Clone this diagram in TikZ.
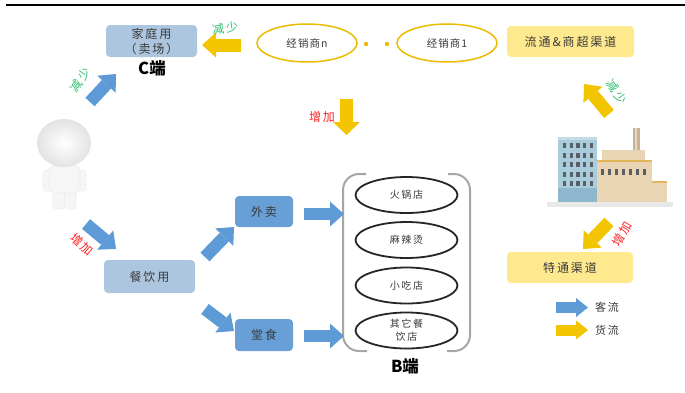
\documentclass[tikz,border=0pt]{standalone}
\usepackage{fontspec}
\setmainfont{Noto Sans CJK SC}
\newfontfamily\widecjk[LetterSpace=16]{Noto Sans CJK SC}
\newfontfamily\loosecjk[LetterSpace=10]{Noto Sans CJK SC}
\usetikzlibrary{arrows.meta,shapes.geometric}

\definecolor{boxpale}{HTML}{ADC6E0}
\definecolor{boxblue}{HTML}{689FD7}
\definecolor{flowblue}{HTML}{5E9BD6}
\definecolor{flowgold}{HTML}{F2C500}
\definecolor{palegold}{HTML}{FEE98E}
\definecolor{ringgold}{HTML}{EBBB00}
\definecolor{lessgreen}{HTML}{2DBE6C}
\definecolor{morered}{HTML}{FF2020}
\definecolor{ink}{HTML}{3A3A3A}
\definecolor{towerblue}{HTML}{A9CCDD}
\definecolor{towerbase}{HTML}{8DB7CC}
\definecolor{plantbeige}{HTML}{E9D4B4}
\definecolor{plantstripe}{HTML}{E3B65A}
\definecolor{windowgray}{HTML}{5A5F66}

\tikzset{
  card/.style={rounded corners=4pt, align=center, text=ink, inner sep=0pt,
    font=\widecjk\fontsize{12}{15}\selectfont},
  palebox/.style={card, fill=boxpale},
  bluebox/.style={card, fill=boxblue},
  goldbox/.style={card, fill=palegold},
  dealer/.style={ellipse, draw=ringgold, line width=1.5pt, fill=white,
    minimum width=100pt, minimum height=38pt, inner sep=0pt, text=ink,
    font=\loosecjk\fontsize{10.5}{12}\selectfont},
  shop/.style={ellipse, draw=black!85, line width=1.8pt, fill=white,
    minimum width=102pt, minimum height=36pt, inner sep=0pt, text=ink,
    align=center, font=\widecjk\fontsize{10}{13}\selectfont},
  flow/.style={line width=12.5pt,
    -{Triangle[width=25pt,length=14pt,line width=0pt]}},
  blueflow/.style={flow, draw=flowblue},
  goldflow/.style={flow, draw=flowgold},
  keyflow/.style={line width=11pt,
    -{Triangle[width=19pt,length=12pt,line width=0pt]}},
  less/.style={text=lessgreen, font=\widecjk\fontsize{12}{13}\selectfont, inner sep=0pt},
  more/.style={text=morered, font=\widecjk\fontsize{12}{13}\selectfont, inner sep=0pt},
  endlabel/.style={font=\fontsize{16.5}{18}\selectfont\bfseries, text=black, inner sep=0pt},
  keytext/.style={font=\widecjk\fontsize{11}{12}\selectfont, text=ink, inner sep=0pt, anchor=west},
  bodypart/.style={fill=gray!7, draw=gray!14, line width=0.6pt}
}

\begin{document}
\begin{tikzpicture}[x=1pt,y=-1pt]
\useasboundingbox (0,0) rectangle (685,392);

% header rule
\draw[line width=2pt] (6,5) -- (685,5);

% ---------- consumer figure ----------
\fill[bodypart, rounded corners=3pt] (43,170) rectangle (51,191);
\fill[bodypart, rounded corners=3pt] (78,170) rectangle (86,191);
\fill[bodypart, rounded corners=3pt] (53,186) rectangle (64.5,209);
\fill[bodypart, rounded corners=3pt] (64.5,186) rectangle (76,209);
\fill[bodypart, rounded corners=7pt] (49,165) rectangle (80,193);
\shade[inner color=white, outer color=gray!22] (64,143) ellipse [x radius=27, y radius=24];

% ---------- channel boxes ----------
\node[palebox, minimum width=91pt, minimum height=32pt] (home) at (151.5,41) {家庭用\\（卖场）};
\node[endlabel] (cend) at (152,68) {C端};
\node[palebox, minimum width=91pt, minimum height=33pt] (dining) at (149.5,276.5) {餐饮用};
\node[bluebox, minimum width=58pt, minimum height=31pt] (takeout) at (264,211.5) {外卖};
\node[bluebox, minimum width=58pt, minimum height=32pt] (dinein) at (264,335) {堂食};
\node[goldbox, minimum width=127pt, minimum height=31pt] (retail) at (570.5,41.5) {流通\&商超渠道};
\node[goldbox, minimum width=126pt, minimum height=31pt] (special) at (570,267.5) {特通渠道};

% ---------- dealers ----------
\node[dealer] (dealerN) at (307,43) {经销商n};
\node[dealer] (dealer1) at (447,43) {经销商1};
\fill[ringgold] (366,44) circle (2.2);
\fill[ringgold] (387,44) circle (2.2);

% ---------- B-side shops ----------
\draw[gray!70, line width=2pt, rounded corners=16pt] (366,174) -- (343,174) -- (343,351) -- (367,351);
\draw[gray!70, line width=2pt, rounded corners=16pt] (448,174) -- (470,174) -- (470,351) -- (447,351);
\node[shop] (hotpot) at (406.5,195) {火锅店};
\node[shop] (malatang) at (406.5,240) {麻辣烫};
\node[shop] (snack) at (406.5,285.5) {小吃店};
\node[shop] (othershop) at (406.5,330.5) {其它餐\\饮店};
\node[endlabel] (bend) at (405,366) {B端};

% ---------- factory ----------
\fill[gray!18] (547,202) rectangle (673,207);
\fill[towerblue] (558,138) rectangle (597,190);
\fill[towerbase] (558,188) rectangle (597,202);
\fill[towerblue!70!white] (558,137) rectangle (597,139.5);
\foreach \cx in {563,569.7,576.4,583.1,589.8}
  \foreach \cy in {143,152.5,162,171.5,181}
    \fill[windowgray] (\cx,\cy) rectangle ++(3.2,5);
\fill[plantbeige!85!black] (633,128) rectangle (640,151);
\fill[plantbeige!95!white] (635,128) rectangle (637,151);
\fill[plantbeige] (602,150) rectangle (645,161);
\fill[plantbeige] (597,160) rectangle (652,202);
\fill[plantstripe] (597,159.5) rectangle (652,162);
\foreach \cx in {600.5,607.5,614.5,621.5,628.5,635.5,642.5}
  \fill[windowgray] (\cx,169) rectangle ++(3,6);
\fill[plantbeige] (652,182) rectangle (667,202);
\fill[plantstripe] (652,181) rectangle (667,183);

% ---------- flow arrows ----------
\coordinate (p2cTail) at (90,102);
\coordinate (p2cTip) at (116,74);
\coordinate (p2dTail) at (86,224);
\coordinate (p2dTip) at (116,249);
\coordinate (d2tTail) at (205,257);
\coordinate (d2tTip) at (234,227);
\coordinate (d2eTail) at (205,309);
\coordinate (d2eTip) at (234,331);
\coordinate (t2bTail) at (304,214);
\coordinate (t2bTip) at (344,214);
\coordinate (e2bTail) at (304,336);
\coordinate (e2bTip) at (344,336);
\coordinate (n2hTail) at (241,45);
\coordinate (n2hTip) at (202,45);
\coordinate (downTail) at (346.5,99);
\coordinate (downTip) at (346.5,135);
\coordinate (f2rTail) at (609,114);
\coordinate (f2rTip) at (584,84);
\coordinate (f2sTail) at (609,222);
\coordinate (f2sTip) at (583,249);

\draw[blueflow] (p2cTail) -- (p2cTip);
\draw[blueflow] (p2dTail) -- (p2dTip);
\draw[blueflow] (d2tTail) -- (d2tTip);
\draw[blueflow] (d2eTail) -- (d2eTip);
\draw[blueflow] (t2bTail) -- (t2bTip);
\draw[blueflow] (e2bTail) -- (e2bTip);
\draw[goldflow, line width=13pt] (n2hTail) -- (n2hTip);
\draw[goldflow, line width=13pt, -{Triangle[width=27pt,length=13pt,line width=0pt]}] (downTail) -- (downTip);
\draw[goldflow] (f2rTail) -- (f2rTip);
\draw[goldflow] (f2sTail) -- (f2sTip);

% ---------- change labels ----------
\node[less, rotate=55] (lessC) at (80,80) {减少};
\node[less, rotate=8] (lessHome) at (225,28) {减少};
\node[more] (moreB) at (322,117) {增加};
\node[less, rotate=-55] (lessRetail) at (617,92) {减少};
\node[more, rotate=60] (moreSpecial) at (622,234) {增加};
\node[more, rotate=-40] (moreDining) at (82,244) {增加};

% ---------- legend ----------
\coordinate (keyBlueTail) at (556,307.5);
\coordinate (keyBlueTip) at (588,307.5);
\coordinate (keyGoldTail) at (556,330);
\coordinate (keyGoldTip) at (588,330);
\draw[keyflow, draw=flowblue] (keyBlueTail) -- (keyBlueTip);
\draw[keyflow, draw=flowgold] (keyGoldTail) -- (keyGoldTip);
\node[keytext] (keyGuest) at (595,307.5) {客流};
\node[keytext] (keyGoods) at (595,330) {货流};
\end{tikzpicture}
\end{document}
